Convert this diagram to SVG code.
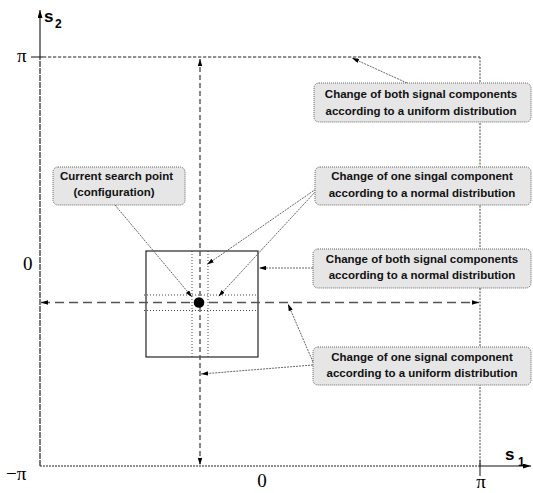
<svg xmlns="http://www.w3.org/2000/svg" width="533" height="493" viewBox="0 0 533 493">
<style>
.box{fill:#e6e6e6;stroke:#555;stroke-width:0.9;stroke-dasharray:1 1}
.lbl{font-family:"Liberation Sans",Arial,sans-serif;font-weight:bold;font-size:11.5px;fill:#111;text-anchor:middle}
.ax{font-family:"Liberation Sans",Arial,sans-serif;font-weight:bold;fill:#000}
.num{font-family:"Liberation Serif","Times New Roman",serif;font-size:19px;fill:#000}
.con{fill:none;stroke:#555;stroke-width:0.9;stroke-dasharray:2 1}
.strip{fill:none;stroke:#333;stroke-width:0.9;stroke-dasharray:1 2}
</style>
<defs>
<marker id="ah" viewBox="0 0 7 4.4" refX="7" refY="2.2" markerWidth="7" markerHeight="4.4" markerUnits="userSpaceOnUse" orient="auto-start-reverse">
<path d="M0,0 L7,2.2 L0,4.4 z" fill="#000"/>
</marker>
<marker id="axh" viewBox="0 0 8 5" refX="8" refY="2.5" markerWidth="8" markerHeight="5" markerUnits="userSpaceOnUse" orient="auto">
<path d="M0,0 L8,2.5 L0,5 z" fill="#000"/>
</marker>
</defs>

<g id="axes">
<line x1="40" y1="57" x2="40" y2="10" stroke="#111" stroke-width="1.1" marker-end="url(#axh)"/>
<line x1="40" y1="466" x2="40" y2="57" stroke="#111" stroke-width="1.1" stroke-dasharray="6 1"/>
<line x1="40" y1="466" x2="480" y2="466" stroke="#222" stroke-width="1.1" stroke-dasharray="2 1"/>
<line x1="480" y1="466" x2="531" y2="466" stroke="#111" stroke-width="1.1" marker-end="url(#axh)"/>
<line x1="31" y1="57" x2="43" y2="57" stroke="#111" stroke-width="1"/>
<line x1="480" y1="460" x2="480" y2="476" stroke="#111" stroke-width="1"/>
<line x1="43" y1="57" x2="480" y2="57" stroke="#222" stroke-width="1" stroke-dasharray="3.3 1.7"/>
<line x1="480" y1="57" x2="480" y2="466" stroke="#444" stroke-width="1" stroke-dasharray="2 1.3"/>
<text class="ax" x="44" y="22" font-size="17">s</text>
<text class="ax" x="55" y="28" font-size="12">2</text>
<text class="ax" x="505" y="460" font-size="17">s</text>
<text class="ax" x="518" y="466" font-size="12">1</text>
<text class="num" x="17" y="62">π</text>
<text class="num" x="23" y="270">0</text>
<text class="num" x="6" y="480">−π</text>
<text class="num" x="262" y="487" text-anchor="middle">0</text>
<text class="num" x="481" y="488" text-anchor="middle" font-size="18">π</text>
</g>

<g id="region">
<rect x="146" y="251" width="112" height="106" fill="none" stroke="#111" stroke-width="1.1"/>
<line class="strip" x1="192" y1="251" x2="192" y2="357"/>
<line class="strip" x1="208" y1="251" x2="208" y2="357"/>
<line class="strip" x1="144" y1="295" x2="258" y2="295"/>
<line class="strip" x1="144" y1="310.5" x2="258" y2="310.5"/>
<line x1="200" y1="59" x2="200" y2="465" stroke="#555" stroke-width="1.4" stroke-dasharray="5 3" marker-start="url(#ah)" marker-end="url(#ah)"/>
<line x1="41" y1="302.5" x2="479" y2="302.5" stroke="#555" stroke-width="1.4" stroke-dasharray="9 5" marker-start="url(#ah)" marker-end="url(#ah)"/>
<circle id="point" cx="199" cy="302.5" r="5.3" fill="#000"/>
</g>

<g id="connectors">
<line class="con" x1="407" y1="83" x2="352" y2="58" marker-end="url(#ah)"/>
<line class="con" x1="316" y1="189" x2="207" y2="264.5" marker-end="url(#ah)"/>
<line class="con" x1="316" y1="191" x2="218.5" y2="296.5" marker-end="url(#ah)"/>
<line class="con" x1="313" y1="268" x2="259" y2="268" marker-end="url(#ah)"/>
<line class="con" x1="313" y1="362" x2="288" y2="304" marker-end="url(#ah)"/>
<line class="con" x1="313" y1="365" x2="201" y2="374" marker-end="url(#ah)"/>
<line class="con" x1="115" y1="205" x2="192" y2="297" marker-end="url(#ah)"/>
</g>

<g id="n1">
<rect class="box" x="314" y="83" width="217" height="39" rx="5"/>
<text class="lbl" x="421" y="97.5">Change of both signal components</text>
<text class="lbl" x="421" y="114.5">according to a uniform distribution</text>
</g>
<g id="n2">
<rect class="box" x="315" y="167" width="216" height="38" rx="5"/>
<text class="lbl" x="422" y="180">Change of one singal component</text>
<text class="lbl" x="422" y="196.5">according to a normal distribution</text>
</g>
<g id="n3">
<rect class="box" x="313" y="249" width="218" height="39" rx="5"/>
<text class="lbl" x="422" y="262.5">Change of both signal components</text>
<text class="lbl" x="422" y="279">according to a normal distribution</text>
</g>
<g id="n4">
<rect class="box" x="313" y="347" width="218" height="38" rx="5"/>
<text class="lbl" x="422" y="360.5">Change of one signal component</text>
<text class="lbl" x="422" y="377">according to a uniform distribution</text>
</g>
<g id="n5">
<rect class="box" x="53" y="167" width="132" height="38" rx="5"/>
<text class="lbl" x="116.5" y="179.5">Current search point</text>
<text class="lbl" x="114" y="196">(configuration)</text>
</g>
</svg>
